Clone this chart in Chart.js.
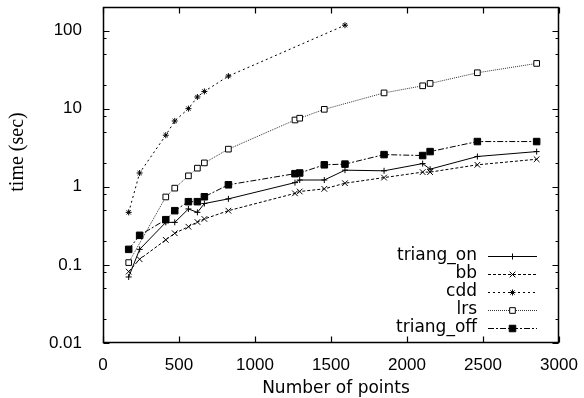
<!DOCTYPE html>
<html>
<head>
<meta charset="utf-8">
<script src="https://cdn.jsdelivr.net/npm/chart.js@4/dist/chart.umd.min.js"></script>
<style>
  html, body { margin: 0; padding: 0; background: #fff; }
  canvas { display: block; }
</style>
</head>
<body>
<canvas id="c" width="584" height="398"></canvas>
<script>
// number of points (shared x values)
const points = [169, 241, 413, 472, 562, 621, 667, 825, 1263, 1294, 1456, 1592, 1849, 2103, 2152, 2463, 2853];

// time in seconds, null where a series has no measurement
const triangOn = [0.07, 0.158, 0.35, 0.35, 0.52, 0.47, 0.61, 0.70, 1.13, 1.22, 1.22, 1.63, 1.60, 1.98, 1.68, 2.44, 2.82];
const bb = [0.082, 0.118, 0.209, 0.254, 0.308, 0.354, 0.387, 0.494, 0.823, 0.87, 0.94, 1.11, 1.31, 1.54, 1.54, 1.91, 2.25];
const cdd = [0.47, 1.5, 4.57, 6.95, 10.0, 14.1, 16.6, 26.1, null, null, null, 117, null, null, null, null, null];
const lrs = [0.107, null, 0.74, 0.96, 1.38, 1.73, 2.02, 3.03, 7.16, 7.54, 9.8, null, 15.9, 19.6, 21, 28.8, 37.9];
const triangOff = [0.158, 0.239, 0.379, 0.494, 0.644, 0.644, 0.745, 1.06, 1.47, 1.50, 1.91, 1.95, 2.58, 2.51, 2.82, 3.79, 3.79];

const xTicks = [0, 500, 1000, 1500, 2000, 2500, 3000];
const yTicks = [0.01, 0.1, 1, 10, 100];

const toXY = (vals) => points.map((x, i) => ({ x, y: vals[i] })).filter((p) => p.y != null);

function series(label, vals, style) {
  return Object.assign({
    label,
    data: toXY(vals),
    showLine: true,
    borderColor: "#000",
    borderWidth: 1,
    pointBorderColor: "#000",
    pointBackgroundColor: "#000",
    pointBorderWidth: 1,
    pointHoverRadius: 4,
  }, style);
}

const datasets = [
  series("triang_on", triangOn, { pointStyle: "cross", pointRadius: 3, borderDash: [] }),
  series("bb", bb, { pointStyle: "crossRot", pointRadius: 4, borderDash: [3, 2] }),
  series("cdd", cdd, { pointStyle: "star", pointRadius: 3, borderDash: [2, 3] }),
  series("lrs", lrs, { pointStyle: "rect", pointRadius: 4, pointBackgroundColor: "#fff", borderDash: [1, 1], borderColor: "#333" }),
  series("triang_off", triangOff, { pointStyle: "rect", pointRadius: 4.6, borderDash: [6, 2, 2, 2] }),
];

const frame = {
  id: "frame",
  afterDraw(chart) {
    const ctx = chart.ctx;
    const xa = chart.scales.x, ya = chart.scales.y;
    const left = Math.round(chart.chartArea.left) + 0.5;
    const right = Math.round(chart.chartArea.right) - 0.5;
    const top = Math.round(chart.chartArea.top) + 0.5;
    const bottom = Math.round(chart.chartArea.bottom) - 0.5;
    ctx.save();
    ctx.strokeStyle = "#000";
    ctx.lineWidth = 1.5;
    ctx.setLineDash([]);
    ctx.beginPath();
    ctx.moveTo(left, top);
    ctx.lineTo(right, top);
    ctx.lineTo(right, bottom);
    ctx.lineTo(left, bottom);
    ctx.closePath();
    ctx.stroke();
    ctx.lineWidth = 1.2;
    ctx.beginPath();
    xTicks.forEach((v) => {
      const px = Math.round(xa.getPixelForValue(v)) + 0.5;
      ctx.moveTo(px, bottom); ctx.lineTo(px, bottom - 6);
      ctx.moveTo(px, top); ctx.lineTo(px, top + 6);
    });
    yTicks.forEach((v) => {
      const py = Math.round(ya.getPixelForValue(v)) + 0.5;
      ctx.moveTo(left, py); ctx.lineTo(left + 6, py);
      ctx.moveTo(right, py); ctx.lineTo(right - 6, py);
      [2, 5, 8].forEach((m) => {
        const mv = v * m;
        if (mv > ya.max) return;
        const my = Math.round(ya.getPixelForValue(mv)) + 0.5;
        ctx.moveTo(left, my); ctx.lineTo(left + 3, my);
        ctx.moveTo(right, my); ctx.lineTo(right - 3, my);
      });
    });
    ctx.stroke();

    // axis titles
    ctx.fillStyle = "#000";
    ctx.textAlign = "center";
    ctx.textBaseline = "middle";
    ctx.font = '17px "DejaVu Sans"';
    ctx.fillText("Number of points", 336, 389);
    ctx.save();
    ctx.translate(18, 152);
    ctx.rotate(-Math.PI / 2);
    ctx.font = '20px "Liberation Serif"';
    ctx.fillText("time (sec)", 0, 0);
    ctx.restore();

    // key, bottom right inside the plot
    ctx.font = '17px "DejaVu Sans"';
    ctx.textAlign = "right";
    chart.data.datasets.forEach((ds, i) => {
      const y = 256 + i * 18;
      ctx.fillStyle = "#000";
      ctx.fillText(ds.label, 477, y);
      ctx.strokeStyle = ds.borderColor;
      ctx.lineWidth = 1;
      ctx.setLineDash(ds.borderDash);
      ctx.beginPath();
      ctx.moveTo(488, y + 0.5); ctx.lineTo(537, y + 0.5);
      ctx.stroke();
      ctx.setLineDash([]);
      ctx.strokeStyle = "#000";
      ctx.fillStyle = ds.pointBackgroundColor;
      Chart.helpers.drawPoint(ctx, { pointStyle: ds.pointStyle, radius: ds.pointRadius, borderWidth: 1, rotation: 0 }, 512.5, y + 0.5);
    });
    ctx.restore();
  },
};

new Chart(document.getElementById("c"), {
  type: "scatter",
  data: { datasets },
  options: {
    responsive: false,
    animation: false,
    devicePixelRatio: 1,
    layout: { padding: { top: 7, right: 25, left: 0, bottom: 0 } },
    plugins: { legend: { display: false }, tooltip: { enabled: false } },
    scales: {
      x: {
        type: "linear",
        min: 0,
        max: 3000,
        bounds: "data",
        grid: { display: false },
        border: { display: false },
        afterBuildTicks: (s) => { s.ticks = xTicks.map((v) => ({ value: v })); },
        afterFit: (s) => { s.height = 55; s.paddingLeft = 0; s.paddingRight = 0; },
        ticks: { color: "#000", padding: 4, maxRotation: 0, callback: (v) => String(v), font: { family: "Liberation Sans", size: 17 } },
      },
      y: {
        type: "logarithmic",
        min: 0.01,
        max: 200,
        bounds: "data",
        grid: { display: false },
        border: { display: false },
        afterBuildTicks: (s) => { s.ticks = yTicks.map((v) => ({ value: v })); },
        afterFit: (s) => { s.width = 103; s.paddingTop = 0; s.paddingBottom = 0; },
        ticks: { color: "#000", padding: 13, callback: (v) => String(v), font: { family: "Liberation Sans", size: 17 } },
      },
    },
  },
  plugins: [frame],
});
</script>
</body>
</html>
